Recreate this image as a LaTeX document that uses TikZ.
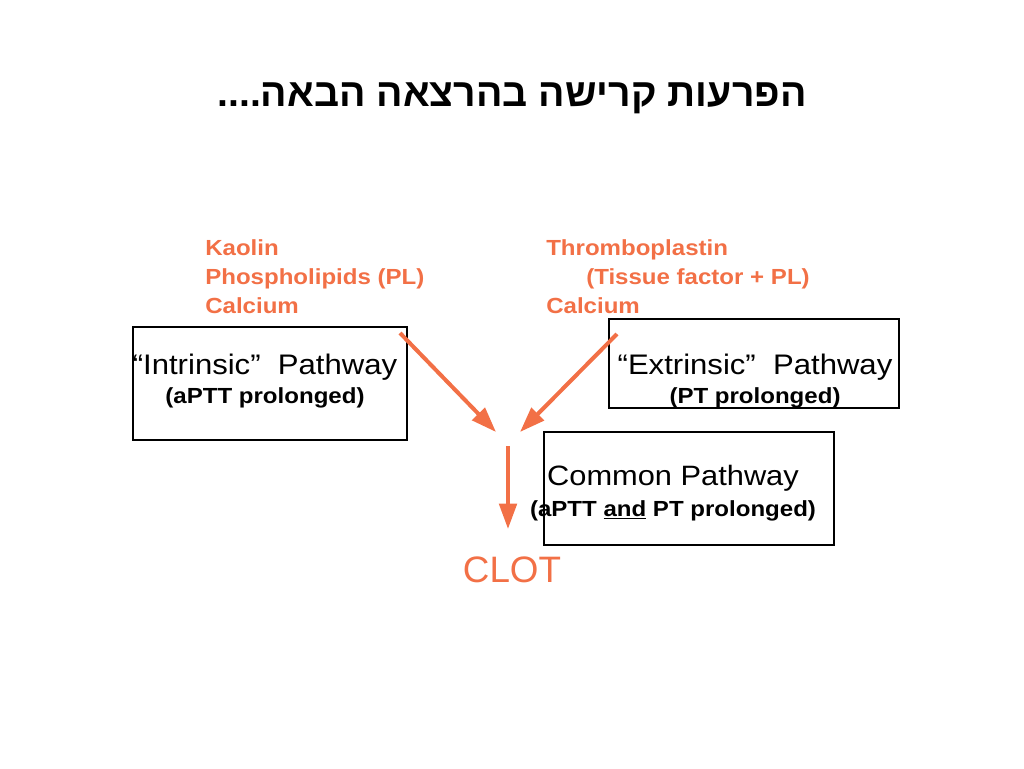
\documentclass[tikz,border=0pt]{standalone}
\usepackage{fontspec}
\usetikzlibrary{arrows.meta}
\TeXXeTstate=1
\newfontfamily\slidefont[FakeStretch=1.1]{Liberation Sans}
\newfontfamily\clotfont{Liberation Sans}
\newfontfamily\hebfont[Script=Hebrew]{Liberation Sans}
\definecolor{clotorange}{RGB}{242,112,70}

\begin{document}
\begin{tikzpicture}[x=0.75pt,y=-0.75pt,
   box/.style={draw,line width=0.8pt,shape=rectangle,inner sep=0pt},
   agent/.style={text=clotorange,align=left,inner sep=0pt,anchor=base west,
                 font=\slidefont\bfseries\fontsize{16.4}{21.4}\selectfont},
   path/.style={align=center,inner sep=0pt,anchor=base,font=\slidefont\fontsize{21.2}{21.75}\selectfont},
   flow/.style={draw=clotorange,line width=3pt,-{Triangle[length=19pt,width=13pt]}}]
   \useasboundingbox (0,0) rectangle (1024,768);
   % title
   \node[anchor=base,inner sep=0pt,font=\hebfont\bfseries\fontsize{29.4}{36}\selectfont] (title) at (512,106)
        {\beginR הפרעות קרישה בהרצאה הבאה....\endR};
   % reagents (base = last line)
   \node[agent] (intrAgent) at (205,313) {Kaolin\\Phospholipids (PL)\\Calcium};
   \node[agent] (extrAgent) at (546,313) {Thromboplastin\\\hspace*{30pt}(Tissue factor + PL)\\Calcium};
   % pathways
   \node[box,minimum width=205.5pt,minimum height=84.75pt] (intrBox) at (270,383.5) {};
   \node[box,minimum width=217.5pt,minimum height=66.75pt] (extrBox) at (754,363.5) {};
   \node[box,minimum width=217.5pt,minimum height=84.75pt] (comBox)  at (689,488.5) {};
   \node[path] (intrText) at (265,403) {“Intrinsic”~ Pathway\\{\bfseries\fontsize{16.4}{21.75}\selectfont (aPTT prolonged)}};
   \node[path] (extrText) at (755,403) {“Extrinsic”~ Pathway\\{\bfseries\fontsize{16.4}{21}\selectfont (PT prolonged)}};
   \node[path,font=\slidefont\fontsize{21}{23}\selectfont] (comText) at (673,516) {Common Pathway\\{\bfseries\fontsize{16.4}{23}\selectfont (aPTT \underline{and} PT prolonged)}};
   \node[anchor=base,inner sep=0pt,text=clotorange,font=\clotfont\fontsize{27.6}{32}\selectfont] (clot) at (512,582) {CLOT};
   % arrows
   \coordinate (intrStart) at (400,333);
   \coordinate (intrEnd)   at (496,432);
   \coordinate (extrStart) at (617,334);
   \coordinate (extrEnd)   at (520,432);
   \coordinate (comStart)  at (508,446);
   \coordinate (comEnd)    at (508,529);
   \draw[flow] (intrStart) -- (intrEnd);
   \draw[flow] (extrStart) -- (extrEnd);
   \draw[flow] (comStart)  -- (comEnd);
\end{tikzpicture}
\end{document}
